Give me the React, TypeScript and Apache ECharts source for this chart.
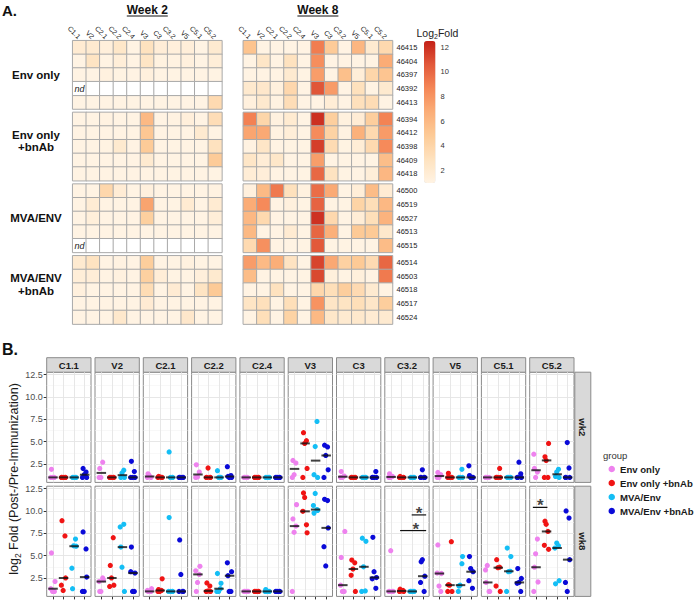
import React, { useEffect, useRef } from 'react';
import * as echarts from 'echarts';

const FONT = "'Liberation Sans', Arial, Helvetica, sans-serif";

const PEPTIDES = ['C1.1', 'V2', 'C2.1', 'C2.2', 'C2.4', 'V3', 'C3', 'C3.2', 'V5', 'C5.1', 'C5.2'];
const GROUPS = ['Env only', 'Env only +bnAb', 'MVA/Env', 'MVA/Env +bnAb'];
const HEAT_LABELS = ['Env only', 'Env only\n+bnAb', 'MVA/ENV', 'MVA/ENV\n+bnAb'];
const GROUP_COLORS = ['#EE82EE', '#F01414', '#14BEF5', '#0A0AD8'];
const WEEK_TITLES = ['Week 2', 'Week 8'];
const WEEK_STRIPS = ['wk2', 'wk8'];
const ANIMALS = [
  ['46415', '46404', '46397', '46392', '46413'],
  ['46394', '46412', '46398', '46409', '46418'],
  ['46500', '46519', '46527', '46513', '46515'],
  ['46514', '46503', '46518', '46517', '46524'],
];

// log2 fold values, columns follow PEPTIDES; null = not done (nd)
const WK2_ENV = [
  [1.9, 2.0, 1.4, 2.4, 1.0, 2.9, 1.65, 1.4, 1.55, 1.0, 2.0],
  [1.0, 2.7, 1.0, 1.6, 1.0, 2.6, 1.15, 1.1, 1.3, 1.0, 1.6],
  [1.0, 1.0, 1.2, 1.05, 1.0, 1.3, 1.0, 1.0, 1.0, 1.0, 1.0],
  null,
  [1.0, 1.0, 1.0, 1.0, 1.0, 1.0, 1.0, 1.0, 1.0, 1.0, 3.6],
];
const WK2_ENVB = [
  [1.0, 1.0, 1.1, 1.0, 1.0, 6.0, 1.0, 1.1, 1.45, 1.0, 3.3],
  [1.0, 1.0, 1.0, 1.0, 1.0, 5.1, 1.0, 1.0, 1.0, 2.0, 1.0],
  [1.0, 1.0, 1.05, 2.05, 1.0, 4.8, 1.0, 1.0, 1.0, 1.0, 2.9],
  [1.0, 1.0, 1.0, 1.0, 1.0, 2.0, 1.0, 1.0, 1.0, 1.0, 4.8],
  [1.0, 1.0, 1.0, 1.0, 1.0, 1.0, 1.0, 1.0, 1.0, 1.0, 1.0],
];
const WK2_MVA = [
  [1.0, 1.0, 3.85, 1.75, 1.0, 1.3, 1.0, 1.0, 1.0, 1.0, 1.1],
  [1.0, 1.8, 1.0, 1.0, 1.0, 7.25, 1.0, 1.0, 1.9, 1.0, 1.9],
  [1.0, 1.5, 1.0, 1.0, 1.0, 4.45, 1.0, 1.0, 1.0, 1.0, 1.6],
  [1.0, 1.0, 1.0, 1.0, 1.0, 1.0, 1.0, 1.0, 1.0, 1.0, 1.0],
  null,
];
const WK2_MVAB = [
  [2.0, 2.8, 1.0, 1.1, 1.0, 4.6, 1.0, 1.0, 1.2, 1.0, 1.0],
  [1.6, 1.65, 1.0, 1.2, 1.0, 4.4, 1.65, 1.0, 1.0, 1.4, 2.05],
  [1.3, 1.0, 1.0, 1.0, 1.0, 3.45, 1.0, 1.85, 1.0, 2.7, 4.9],
  [1.0, 1.0, 1.0, 1.0, 1.0, 1.85, 1.0, 1.0, 1.0, 1.0, 1.0],
  [1.0, 1.0, 1.0, 2.2, 1.0, 1.0, 1.0, 1.0, 2.3, 1.0, 1.0],
];
const WK8_ENV = [
  [5.3, 1.0, 1.0, 1.0, 1.0, 9.1, 4.8, 1.0, 6.2, 2.0, 3.7],
  [1.0, 2.5, 1.0, 2.9, 1.0, 8.3, 1.0, 1.0, 1.0, 1.0, 6.85],
  [1.0, 1.0, 1.0, 2.0, 1.0, 7.6, 1.0, 5.55, 1.6, 3.9, 5.2],
  [2.1, 2.3, 1.3, 3.8, 1.0, 10.7, 7.7, 1.0, 3.0, 1.0, 2.05],
  [1.3, 2.1, 1.1, 3.3, 1.0, 1.0, 1.7, 1.0, 3.05, 3.4, 1.0],
];
const WK8_ENVB = [
  [8.9, 3.9, 1.2, 1.95, 1.0, 12.0, 4.5, 1.25, 1.75, 4.55, 8.85],
  [7.2, 7.0, 1.1, 1.6, 1.0, 8.45, 4.2, 1.1, 6.55, 3.7, 7.7],
  [1.1, 2.5, 1.0, 1.05, 1.0, 11.5, 3.5, 1.05, 1.7, 3.65, 8.5],
  [2.5, 1.7, 2.4, 1.0, 1.0, 7.55, 1.0, 1.0, 1.0, 1.0, 5.7],
  [1.7, 1.55, 1.0, 1.0, 1.0, 9.95, 2.8, 1.0, 1.0, 1.6, 6.15],
];
const WK8_MVA = [
  [1.3, 5.95, 9.25, 3.0, 1.2, 9.75, 6.95, 1.0, 1.6, 5.85, 1.85],
  [6.85, 8.5, 1.0, 1.3, 1.0, 10.15, 1.05, 1.0, 4.1, 3.25, 6.1],
  [6.1, 3.7, 1.0, 1.0, 1.0, 11.95, 3.75, 1.0, 1.7, 3.2, 6.4],
  [6.05, 1.0, 1.0, 1.9, 1.0, 10.05, 6.6, 1.0, 4.9, 4.9, 2.2],
  [3.6, 8.2, 1.0, 1.0, 1.0, 10.6, 1.0, 1.0, 1.0, 1.0, 5.85],
];
const WK8_MVAB = [
  [7.65, 5.95, 6.75, 2.75, 1.0, 11.3, 7.05, 4.3, 4.9, 3.55, 10.0],
  [5.75, 1.0, 1.0, 1.0, 1.0, 11.15, 1.35, 1.0, 1.35, 1.0, 9.2],
  [1.0, 1.0, 2.9, 1.0, 1.0, 3.85, 3.2, 4.55, 3.55, 2.0, 1.0],
  [2.6, 3.05, 1.0, 3.2, 1.0, 8.1, 2.55, 2.7, 3.2, 2.45, 4.55],
  [1.0, 3.2, 1.0, 4.2, 1.0, 6.0, 2.4, 2.0, 2.2, 1.9, 2.0],
];

const Y_TICKS = [2.5, 5, 7.5, 10, 12.5];
const Y_MINOR = [1.25, 3.75, 6.25, 8.75, 11.25];
const COLORBAR_TICKS = [2, 4, 6, 8, 10, 12];
const HEAT_COLORS = ['#FFF3E3', '#FEE2BF', '#FDCB97', '#FBAE78', '#F58757', '#E2593A', '#C42118'];
// estimated horizontal jitter per animal (fraction of a group slot)
const JITTER = [-0.15, 0.13, -0.04, 0.19, -0.21];

// significance annotations (week 8)
const SIG_PEPTIDE = ['C3.2', 'C3.2', 'C5.2'];
const SIG_X0 = [2.95, 1.85, 0.7];
const SIG_X1 = [4.32, 4.32, 2.08];
const SIG_Y = [9.55, 7.8, 10.4];
const SIG_STAR_X = [3.65, 3.35, 1.4];

// layout
const HM_LEFT = [72.7, 243.3];
const HM_W = 149.2;
const HM_TOP = [40.7, 112.4, 184.1, 255.8];
const HM_H = 68.3;
const DP_LEFT0 = 46.7;
const DP_STEP = 48.3;
const DP_W = 44.3;
const DP_TOP = [372.2, 486.2];
const DP_H = 110.2;
const CB_LEFT = 424;
const CB_TOP = 41;
const CB_H = 142;
const CB_MIN = 1;
const CB_MAX = 12.5;

function median(vals: number[]) {
  const s = [...vals].sort((a, b) => a - b);
  const n = s.length;
  return n % 2 ? s[(n - 1) / 2] : (s[n / 2 - 1] + s[n / 2]) / 2;
}

function buildOption() {
  const WK = [
    [WK2_ENV, WK2_ENVB, WK2_MVA, WK2_MVAB],
    [WK8_ENV, WK8_ENVB, WK8_MVA, WK8_MVAB],
  ];
  const grids: any[] = [];
  const xAxes: any[] = [];
  const yAxes: any[] = [];
  const series: any[] = [];
  const heatIdx: number[] = [];
  const ndIdx: number[] = [];
  const graphics: any[] = [];

  // ---------- heatmaps ----------
  for (let w = 0; w < 2; w++) {
    for (let g = 0; g < 4; g++) {
      const gi = grids.length;
      grids.push({ left: HM_LEFT[w], top: HM_TOP[g], width: HM_W, height: HM_H, show: false });
      xAxes.push({
        type: 'category', gridIndex: gi, data: PEPTIDES, position: 'top',
        axisLine: { show: false }, axisTick: { show: false }, splitLine: { show: false },
        axisLabel: { show: g === 0, rotate: 45, fontSize: 7, margin: 3, interval: 0, color: '#222' },
      });
      yAxes.push({
        type: 'category', gridIndex: gi, data: ANIMALS[g], inverse: true, position: 'right',
        axisLine: { show: false }, axisTick: { show: false }, splitLine: { show: false },
        axisLabel: { show: w === 1, fontSize: 7.5, margin: 4, color: '#222' },
      });
      const rows = WK[w][g];
      const data: any[] = [];
      const nd: any[] = [];
      rows.forEach((row: any, r: number) => {
        if (row) row.forEach((v: number, c: number) => data.push([c, r, v]));
        else PEPTIDES.forEach((_, c) => nd.push([c, r, 0]));
      });
      heatIdx.push(series.length);
      series.push({
        type: 'heatmap', xAxisIndex: gi, yAxisIndex: gi, data,
        itemStyle: { borderColor: '#A9A9A9', borderWidth: 1 },
        emphasis: { disabled: true }, silent: true,
      });
      if (nd.length) {
        ndIdx.push(series.length);
        series.push({
          type: 'heatmap', xAxisIndex: gi, yAxisIndex: gi, data: nd,
          itemStyle: { borderColor: '#A9A9A9', borderWidth: 1 },
          emphasis: { disabled: true }, silent: true,
          label: {
            show: true, formatter: (p: any) => (p.data[0] === 0 ? 'nd' : ''),
            fontStyle: 'italic', fontSize: 9, color: '#222', fontFamily: FONT,
          },
        });
      }
    }
  }

  // ---------- dot plots ----------
  const gridLines = [
    ...Y_MINOR.map((v) => ({ yAxis: v, lineStyle: { color: '#F4F4F4', width: 0.6, type: 'solid' } })),
    ...Y_TICKS.map((v) => ({ yAxis: v, lineStyle: { color: '#E4E4E4', width: 0.9, type: 'solid' } })),
    ...[1, 2, 3, 4].map((v) => ({ xAxis: v, lineStyle: { color: '#E4E4E4', width: 0.9, type: 'solid' } })),
  ];
  for (let w = 0; w < 2; w++) {
    for (let p = 0; p < PEPTIDES.length; p++) {
      const gi = grids.length;
      const left = DP_LEFT0 + p * DP_STEP;
      grids.push({
        left, top: DP_TOP[w], width: DP_W, height: DP_H, show: true,
        borderColor: '#8A8A8A', borderWidth: 1, backgroundColor: 'transparent',
      });
      xAxes.push({
        type: 'value', gridIndex: gi, min: 0.4, max: 4.6,
        axisLine: { show: false }, splitLine: { show: false }, axisLabel: { show: false },
        axisTick: { show: w === 1, customValues: [1, 2, 3, 4], length: 3, lineStyle: { color: '#333' } },
      });
      yAxes.push({
        type: 'value', gridIndex: gi, min: 0.44, max: 12.76,
        axisLine: { show: false }, splitLine: { show: false },
        axisTick: { show: p === 0, customValues: Y_TICKS, length: 3, lineStyle: { color: '#333' } },
        axisLabel: {
          show: p === 0, customValues: Y_TICKS, formatter: (v: number) => v.toFixed(1),
          fontSize: 9, color: '#4D4D4D', margin: 4,
        },
      });
      const meds: any[] = [];
      for (let g = 0; g < 4; g++) {
        const pts: any[] = [];
        const vals: number[] = [];
        WK[w][g].forEach((row: any, r: number) => {
          if (!row) return;
          pts.push([g + 1 + JITTER[r], row[p]]);
          vals.push(row[p]);
        });
        meds.push([g + 1, median(vals)]);
        const s: any = {
          type: 'scatter', name: GROUPS[g], xAxisIndex: gi, yAxisIndex: gi, data: pts,
          symbolSize: 5.2, itemStyle: { color: GROUP_COLORS[g], opacity: 1 }, z: 2, silent: true,
        };
        if (g === 0) {
          s.markLine = {
            silent: true, symbol: ['none', 'none'], label: { show: false }, z: 1,
            animation: false, data: gridLines, emphasis: { disabled: true },
          };
        }
        series.push(s);
      }
      series.push({
        type: 'scatter', name: 'median', xAxisIndex: gi, yAxisIndex: gi, data: meds,
        symbol: 'rect', symbolSize: [9.5, 2], itemStyle: { color: '#111' }, z: 3, silent: true,
      });
      if (w === 1) {
        SIG_PEPTIDE.forEach((pep, k) => {
          if (pep !== PEPTIDES[p]) return;
          series.push({
            type: 'line', xAxisIndex: gi, yAxisIndex: gi, data: [[SIG_X0[k], SIG_Y[k]], [SIG_X1[k], SIG_Y[k]]],
            symbol: 'none', lineStyle: { color: '#111', width: 1.2 }, z: 4, silent: true,
          });
          series.push({
            type: 'scatter', xAxisIndex: gi, yAxisIndex: gi, data: [[SIG_STAR_X[k], SIG_Y[k]]],
            symbolSize: 1, itemStyle: { color: 'rgba(0,0,0,0)' }, z: 4, silent: true,
            label: {
              show: true, position: 'inside', formatter: '*', fontSize: 17, fontWeight: 'bold',
              color: '#111', fontFamily: FONT, offset: [0, -1.5],
            },
          });
        });
      }
      // strip on top
      if (w === 0) {
        graphics.push({
          type: 'rect', silent: true,
          shape: { x: left, y: DP_TOP[0] - 14.5, width: DP_W, height: 14.5 },
          style: { fill: '#D9D9D9', stroke: '#8A8A8A', lineWidth: 1 },
        });
        graphics.push({
          type: 'text', silent: true, x: left + DP_W / 2, y: DP_TOP[0] - 7.2,
          style: {
            text: PEPTIDES[p], fontSize: 9.5, fontWeight: 'bold', fill: '#1A1A1A',
            textAlign: 'center', textVerticalAlign: 'middle', fontFamily: FONT,
          },
        });
      }
    }
    // right strip
    const rx = DP_LEFT0 + 10 * DP_STEP + DP_W + 0.8;
    graphics.push({
      type: 'rect', silent: true,
      shape: { x: rx, y: DP_TOP[w], width: 16, height: DP_H },
      style: { fill: '#D9D9D9', stroke: '#8A8A8A', lineWidth: 1 },
    });
    graphics.push({
      type: 'text', silent: true, x: rx + 8, y: DP_TOP[w] + DP_H / 2, rotation: -Math.PI / 2,
      style: {
        text: WEEK_STRIPS[w], fontSize: 9.5, fontWeight: 'bold', fill: '#1A1A1A',
        textAlign: 'center', textVerticalAlign: 'middle', fontFamily: FONT,
      },
    });
  }

  // ---------- panel A texts ----------
  graphics.push({
    type: 'text', silent: true, x: 2, y: 10,
    style: { text: 'A.', fontSize: 15, fontWeight: 'bold', fill: '#111', textVerticalAlign: 'middle', fontFamily: FONT },
  });
  graphics.push({
    type: 'text', silent: true, x: 2, y: 349.5,
    style: { text: 'B.', fontSize: 16, fontWeight: 'bold', fill: '#111', textVerticalAlign: 'middle', fontFamily: FONT },
  });
  for (let w = 0; w < 2; w++) {
    const cx = HM_LEFT[w] + HM_W / 2;
    graphics.push({
      type: 'text', silent: true, x: cx, y: 9.5,
      style: {
        text: WEEK_TITLES[w], fontSize: 12, fontWeight: 'bold', fill: '#111',
        textAlign: 'center', textVerticalAlign: 'middle', fontFamily: FONT,
      },
    });
    graphics.push({
      type: 'line', silent: true, shape: { x1: cx - 20.5, y1: 16, x2: cx + 20.5, y2: 16 },
      style: { stroke: '#111', lineWidth: 1 },
    });
  }
  HEAT_LABELS.forEach((lab, g) => {
    const lines = lab.split('\n').length;
    graphics.push({
      type: 'text', silent: true, x: 36, y: HM_TOP[g] + HM_H / 2 - (lines - 1) * 5.5,
      style: {
        text: lab, fontSize: 11.5, fontWeight: 'bold', fill: '#111', lineHeight: 12.5,
        textAlign: 'center', textVerticalAlign: 'middle', fontFamily: FONT,
      },
    });
  });
  // colour bar title and ticks
  graphics.push({
    type: 'text', silent: true, x: 416.5, y: 33,
    style: {
      text: '{a|Log}{s|2}{a|Fold}', textVerticalAlign: 'middle', fontFamily: FONT,
      rich: {
        a: { fontSize: 10.5, fill: '#222', fontFamily: FONT },
        s: { fontSize: 7, fill: '#222', fontFamily: FONT, padding: [6, 0, 0, 0] },
      },
    },
  });
  COLORBAR_TICKS.forEach((t) => {
    graphics.push({
      type: 'text', silent: true, x: 440.5,
      y: CB_TOP + ((CB_MAX - t) / (CB_MAX - CB_MIN)) * CB_H,
      style: { text: String(t), fontSize: 7.5, fill: '#333', textVerticalAlign: 'middle', fontFamily: FONT },
    });
  });

  // ---------- panel B texts ----------
  graphics.push({
    type: 'text', silent: true, x: 14, y: 479, rotation: Math.PI / 2,
    style: {
      text: '{a|log}{s|2}{a| Fold (Post-/Pre-Immunization)}',
      textAlign: 'center', textVerticalAlign: 'middle', fontFamily: FONT,
      rich: {
        a: { fontSize: 12.5, fill: '#1A1A1A', fontFamily: FONT },
        s: { fontSize: 8.5, fill: '#1A1A1A', fontFamily: FONT, padding: [7, 0, 0, 0] },
      },
    },
  });
  graphics.push({
    type: 'text', silent: true, x: 603, y: 455,
    style: { text: 'group', fontSize: 9.5, fill: '#333', textVerticalAlign: 'middle', fontFamily: FONT },
  });

  return {
    animation: false,
    backgroundColor: '#FFFFFF',
    textStyle: { fontFamily: FONT },
    grid: grids,
    xAxis: xAxes,
    yAxis: yAxes,
    visualMap: [
      {
        type: 'continuous', min: CB_MIN, max: CB_MAX, seriesIndex: heatIdx, dimension: 2,
        left: CB_LEFT, top: CB_TOP, itemWidth: 11.5, itemHeight: CB_H, padding: 0,
        text: ['', ''], calculable: false, hoverLink: false, realtime: false,
        inRange: { color: HEAT_COLORS },
      },
      {
        type: 'continuous', min: 0, max: 1, seriesIndex: ndIdx, dimension: 2, show: false,
        inRange: { color: ['#FFFFFF', '#FFFFFF'] },
      },
    ],
    legend: {
      data: GROUPS, orient: 'vertical', left: 608.5, top: 463.5, padding: 0,
      icon: 'circle', itemWidth: 6.5, itemHeight: 6.5, itemGap: 3, selectedMode: false,
      textStyle: { fontSize: 9.6, fontWeight: 'bold', color: '#1A1A1A', fontFamily: FONT, lineHeight: 11 },
    },
    graphic: graphics,
    series,
  };
}

export default function App() {
  const ref = useRef<HTMLDivElement>(null);
  useEffect(() => {
    if (!ref.current) return;
    const chart = echarts.init(ref.current, null, { renderer: 'svg' });
    chart.setOption(buildOption() as any);
    return () => chart.dispose();
  }, []);
  return (
    <div
      ref={ref}
      style={{ position: 'fixed', left: 0, top: 0, width: 696, height: 600, background: '#fff' }}
    />
  );
}
